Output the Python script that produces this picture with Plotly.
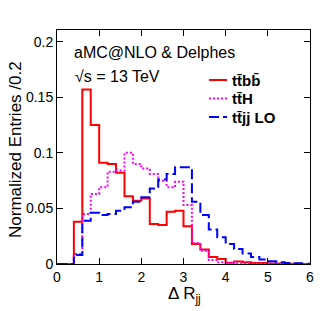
import plotly.graph_objects as go

# bin edges 0..6 step 0.2 (30 bins)
bin_edges = [round(i * 0.2, 1) for i in range(31)]

ttbb = [0, 0, 0.038, 0.157, 0.125, 0.091, 0.090, 0.082, 0.061, 0.057,
        0.059, 0.036, 0.035, 0.047, 0.048, 0.034, 0.018, 0.013, 0.0063, 0.0045,
        0.0012, 0.0022, 0.0015, 0.001, 0.0008, 0.0005, 0.0004, 0.0003, 0.0002, 0.0001]
tth = [0, 0, 0.009, 0.045, 0.063, 0.069, 0.083, 0.084, 0.100, 0.090,
       0.086, 0.081, 0.075, 0.069, 0.074, 0.053, 0.019, 0.012, 0.0035, 0.0015,
       0.0008, 0.0005, 0.0004, 0.0003, 0.0003, 0.0002, 0.0002, 0.0001, 0.0001, 0.0001]
ttjj = [0, 0, 0.008, 0.039, 0.046, 0.044, 0.045, 0.048, 0.051, 0.056,
        0.060, 0.068, 0.076, 0.081, 0.087, 0.087, 0.056, 0.044, 0.031, 0.024,
        0.018, 0.0135, 0.0094, 0.0063, 0.004, 0.0025, 0.0015, 0.001, 0.0006, 0.0003]

legend_labels = ["t\u0074\u0304b\u0062\u0304", "t\u0074\u0304H", "t\u0074\u0304jj LO"]
colors = ["#ff0000", "#ff00ff", "#0000ff"]
dashes = ["solid", "2px,2px", "10px,4px"]
y_tickvals = [0, 0.05, 0.1, 0.15, 0.2]
y_ticktext = ["0", "0.05", "0.1", "0.15", "0.2"]
x_tickvals = [0, 1, 2, 3, 4, 5, 6]

FONT = "Liberation Sans, Arial, Helvetica, sans-serif"

fig = go.Figure()
for vals, col, dsh, name in zip([ttbb, tth, ttjj], colors, dashes, legend_labels):
    fig.add_trace(go.Scatter(
        x=bin_edges, y=vals + [vals[-1]], mode="lines",
        line=dict(color=col, width=2, dash=dsh, shape="hv"),
        name=name, showlegend=False, hoverinfo="skip"))

# plot area in pixels: x 57..310, y 30..263.7
L, R, T, B = 57, 17, 30, 47
W, H = 327, 311
pw = W - L - R
ph = H - T - B

def px(xp):
    return (xp - L) / pw

def py(yp):
    return (H - B - yp) / ph

ann = []
ann.append(dict(text="aMC@NLO & Delphes", x=px(72), y=py(52), xref="paper", yref="paper",
                xanchor="left", yanchor="middle", showarrow=False,
                font=dict(family=FONT, size=16, color="black")))
ann.append(dict(text="\u221As = 13 TeV", x=px(73), y=py(76), xref="paper", yref="paper",
                xanchor="left", yanchor="middle", showarrow=False,
                font=dict(family=FONT, size=16, color="black")))
rows_y = [80, 98.5, 117]
shapes = []
for lab, col, dsh, ry in zip(legend_labels, colors, dashes, rows_y):
    shapes.append(dict(type="line", xref="paper", yref="paper",
                       x0=px(209), x1=px(227), y0=py(ry), y1=py(ry),
                       line=dict(color=col, width=2, dash=dsh)))
    ann.append(dict(text="<b>" + lab + "</b>", x=px(230), y=py(ry), xref="paper", yref="paper",
                    xanchor="left", yanchor="middle", showarrow=False,
                    font=dict(family=FONT, size=15, color="black")))
ann.append(dict(text="Normalized Entries /0.2", x=px(15), y=py(150), xref="paper", yref="paper",
                xanchor="center", yanchor="middle", textangle=-90, showarrow=False,
                font=dict(family=FONT, size=17, color="black")))
ann.append(dict(text="\u0394 R<sub>jj</sub>", x=px(184), y=py(295), xref="paper", yref="paper",
                xanchor="center", yanchor="middle", showarrow=False,
                font=dict(family=FONT, size=17, color="black")))

axis_common = dict(showline=True, linecolor="black", linewidth=1, mirror="ticks",
                   ticks="inside", ticklen=6, tickcolor="black", tickwidth=1,
                   showgrid=False, zeroline=False,
                   tickfont=dict(family=FONT, size=14, color="black"))

fig.update_layout(
    width=W, height=H,
    margin=dict(l=L, r=R, t=T, b=B),
    paper_bgcolor="white", plot_bgcolor="white",
    xaxis=dict(range=[0, 6], tickvals=x_tickvals, **axis_common),
    yaxis=dict(range=[0, 0.2105], tickvals=y_tickvals, ticktext=y_ticktext, **axis_common),
    annotations=ann, shapes=shapes, showlegend=False,
)

fig.write_html("out.html", config={"displayModeBar": False},
               post_script="document.body.style.margin='0px';")
